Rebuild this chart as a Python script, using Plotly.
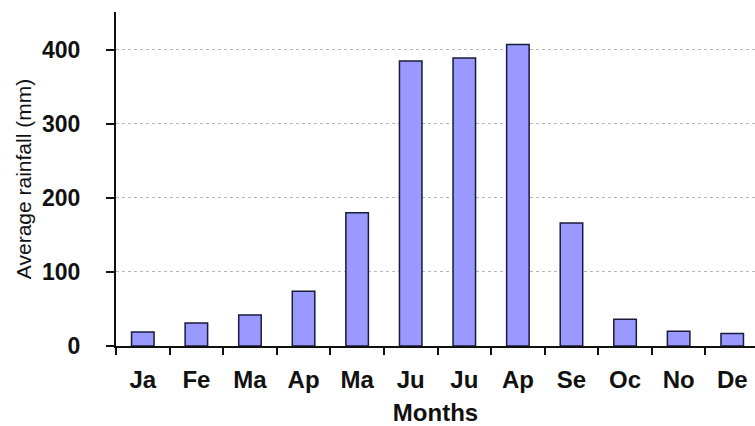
import plotly.graph_objects as go

months = ["Ja", "Fe", "Ma", "Ap", "Ma", "Ju", "Ju", "Ap", "Se", "Oc", "No", "De"]
rainfall = [19, 31, 42, 74, 180, 385, 389, 407, 166, 36, 20, 17]
y_ticks = [0, 100, 200, 300, 400]

x_idx = list(range(len(months)))
FONT = "Liberation Sans, Arial, sans-serif"

fig = go.Figure()
fig.add_trace(go.Bar(
    x=x_idx, y=rainfall, width=0.42,
    marker=dict(color="#9999FF", line=dict(color="#1a1a3a", width=1.5)),
))

fig.update_layout(
    width=755, height=426,
    margin=dict(l=116, r=0, t=12, b=80),
    plot_bgcolor="white", paper_bgcolor="white",
    showlegend=False,
    font=dict(family=FONT, color="#111111"),
)
fig.update_xaxes(
    range=[-0.5, 11.425],
    tickmode="array", tickvals=x_idx, ticktext=months,
    showgrid=False, zeroline=False,
    showline=True, linecolor="#111111", linewidth=2,
    ticks="", ticklabelstandoff=11,
    tickfont=dict(size=24, family=FONT, weight="bold"),
    title=dict(text="<b>Months</b>", font=dict(size=24, family=FONT), standoff=12),
    minor=dict(tickmode="array", tickvals=[-0.5] + [i + 0.5 for i in x_idx[:-1]],
               ticks="outside", ticklen=7, tickwidth=2, tickcolor="#111111", showgrid=False),
)
fig.update_yaxes(
    range=[0, 451],
    tickmode="array", tickvals=y_ticks,
    showgrid=True, gridcolor="#b8b8b8", griddash="3px,3px", gridwidth=1,
    zeroline=False,
    showline=True, linecolor="#111111", linewidth=2,
    ticks="outside", ticklen=8, tickwidth=2, tickcolor="#111111",
    ticklabelstandoff=21,
    tickfont=dict(size=23, family=FONT, weight="bold"),
    title=dict(text="Average rainfall (mm)", font=dict(size=21, family=FONT), standoff=5),
)

fig.write_html("out.html", config={"displayModeBar": False},
               post_script="document.body.style.margin='0';document.body.style.overflow='hidden';")
